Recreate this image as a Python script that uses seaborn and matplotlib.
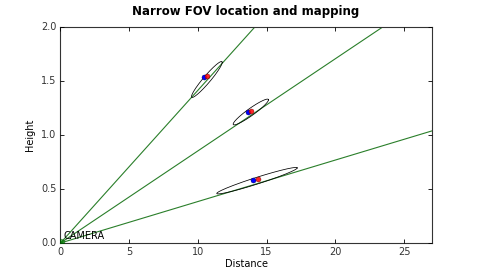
import numpy as np
import pandas as pd
import matplotlib
matplotlib.use("Agg")
import matplotlib.pyplot as plt
import seaborn as sns

plt.style.use("classic")

# ---- data ----
ray_slopes = [0.1414, 0.0853, 0.0384]          # camera rays (height / distance)
ray_end_x = 30.0

est_blue_x = [10.45, 13.65, 14.02]
est_blue_y = [1.540, 1.216, 0.583]
est_red_x = [10.63, 13.85, 14.34]
est_red_y = [1.546, 1.225, 0.590]

ell_cx = [10.65, 13.85, 14.30]                 # ellipse centres
ell_cy = [1.514, 1.213, 0.577]
ell_range_semi = [1.13, 1.29, 2.93]            # semi-axis along the ray
ell_cross_semi = [0.050, 0.040, 0.032]         # semi-axis across the ray

camera_x = [0.0]
camera_y = [0.0]

x_ticks = [0, 5, 10, 15, 20, 25]
y_ticks = [0.0, 0.5, 1.0, 1.5, 2.0]

# ---- figure ----
fig = plt.figure(figsize=(4.8, 2.7), dpi=100, facecolor="white")
ax = fig.add_subplot(111)
fig.subplots_adjust(left=0.126, right=0.899, bottom=0.1, top=0.9)
ax.set_facecolor("white")

# rays
for k, s in enumerate(ray_slopes):
    df = pd.DataFrame({"x": [0.0, ray_end_x], "y": [0.0, s * ray_end_x]})
    sns.lineplot(data=df, x="x", y="y", ax=ax, color="#2a7f2a", lw=0.8,
                 legend=False, estimator=None)

# ellipses
t = np.linspace(0, 2 * np.pi, 200)
for cx, cy, a, b in zip(ell_cx, ell_cy, ell_range_semi, ell_cross_semi):
    th = np.arctan2(cy, cx)
    u = np.array([np.cos(th), np.sin(th)])
    v = np.array([-np.sin(th), np.cos(th)])
    ex = cx + a * np.cos(t) * u[0] + b * np.sin(t) * v[0]
    ey = cy + a * np.cos(t) * u[1] + b * np.sin(t) * v[1]
    df = pd.DataFrame({"x": ex, "y": ey})
    sns.lineplot(data=df, x="x", y="y", ax=ax, color="black", lw=0.55,
                 sort=False, legend=False, estimator=None)

# estimates
sns.scatterplot(x=est_blue_x, y=est_blue_y, ax=ax, color="blue", s=13,
                edgecolor="#000055", linewidth=0.3, zorder=5, legend=False)
sns.scatterplot(x=est_red_x, y=est_red_y, ax=ax, color="red", s=13,
                edgecolor="#550000", linewidth=0.3, zorder=6, alpha=0.85,
                legend=False)

# camera
sns.scatterplot(x=camera_x, y=camera_y, ax=ax, color="green", s=40,
                edgecolor="#004400", linewidth=0.4, alpha=0.6, zorder=4,
                legend=False)
ax.text(0.2, 0.02, "CAMERA", fontsize=7, ha="left", va="bottom")

ax.set_xlim(0, 27)
ax.set_ylim(0, 2.0)
ax.set_xticks(x_ticks)
ax.set_yticks(y_ticks)
ax.set_xticklabels([str(v) for v in x_ticks])
ax.set_yticklabels([f"{v:.1f}" for v in y_ticks])
ax.tick_params(axis="both", which="major", labelsize=7, direction="in",
               length=3, width=0.6, pad=3, top=True, right=True,
               colors="black")
ax.tick_params(axis="both", labelcolor="#333333")
for sp in ax.spines.values():
    sp.set_linewidth(0.8)
    sp.set_color("#333333")

ax.set_xlabel("Distance", fontsize=7, labelpad=1)
ax.set_ylabel("Height", fontsize=7, labelpad=4)
ax.set_title("Narrow FOV location and mapping", fontsize=8.5,
             fontweight="bold", pad=9)
ax.grid(False)

fig.savefig("out.png", dpi=100, facecolor="white")
